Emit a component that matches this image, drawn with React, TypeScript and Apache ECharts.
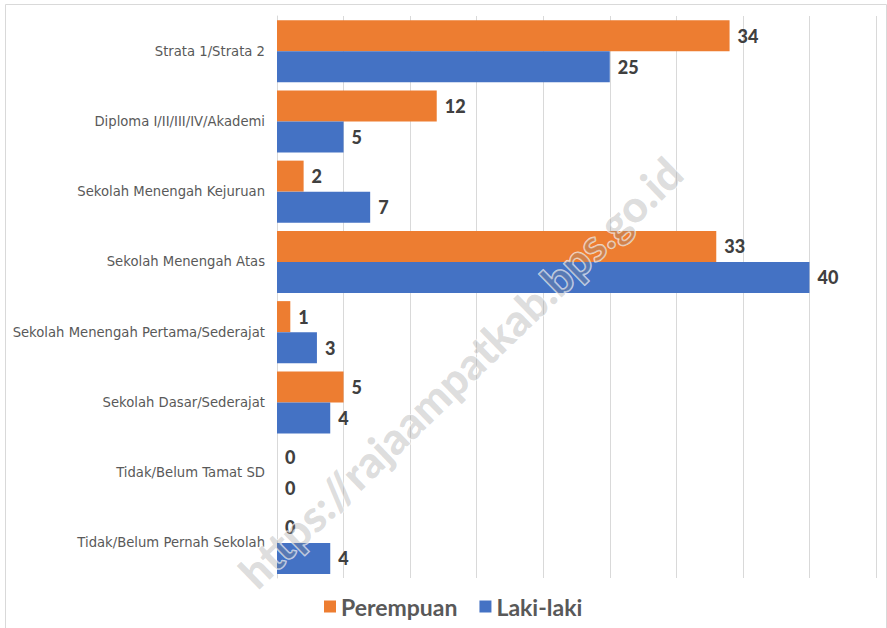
import React, { useEffect, useRef } from "react";
import * as echarts from "echarts";

const categories = [
  "Strata 1/Strata 2",
  "Diploma I/II/III/IV/Akademi",
  "Sekolah Menengah Kejuruan",
  "Sekolah Menengah Atas",
  "Sekolah Menengah Pertama/Sederajat",
  "Sekolah Dasar/Sederajat",
  "Tidak/Belum Tamat SD",
  "Tidak/Belum Pernah Sekolah",
];
const perempuan = [34, 12, 2, 33, 1, 5, 0, 0];
const lakiLaki = [25, 5, 7, 40, 3, 4, 0, 4];
const seriesNames = ["Perempuan", "Laki-laki"];
const watermark = "https://rajaampatkab.bps.go.id";

export default function App() {
  const ref = useRef<HTMLDivElement>(null);
  useEffect(() => {
    document.body.style.margin = "0";
    const chart = echarts.init(ref.current!, null, { renderer: "svg" });
    const labelStyle = {
      show: true,
      position: "right" as const,
      distance: 8,
      fontFamily: "Lato",
      fontWeight: 900,
      fontSize: 18,
      color: "#404040",
    };
    chart.setOption({
      animation: false,
      backgroundColor: "#ffffff",
      grid: { left: 277, right: 11, top: 16, bottom: 50, containLabel: false },
      legend: {
        bottom: 5,
        left: 319,
        itemWidth: 12,
        itemHeight: 12,
        itemGap: 22,
        icon: "rect",
        textStyle: { fontFamily: "Lato", fontSize: 23, color: "#595959", fontWeight: "bold" },
        data: seriesNames,
      },
      xAxis: {
        type: "value",
        min: 0,
        max: 45,
        interval: 5,
        axisLabel: { show: false },
        axisLine: { show: false },
        axisTick: { show: false },
        splitLine: { lineStyle: { color: "#d9d9d9", width: 1 } },
      },
      yAxis: {
        type: "category",
        inverse: true,
        data: categories,
        axisTick: { show: false },
        axisLine: { lineStyle: { color: "#d9d9d9" } },
        axisLabel: {
          margin: 12,
          fontFamily: "DejaVu Sans",
          fontSize: 13.2,
          color: "#595959",
        },
      },
      series: [
        {
          name: seriesNames[0],
          type: "bar",
          data: perempuan,
          barWidth: 31,
          barGap: "0%",
          itemStyle: { color: "#ED7D31" },
          label: labelStyle,
        },
        {
          name: seriesNames[1],
          type: "bar",
          data: lakiLaki,
          barWidth: 31,
          barGap: "0%",
          itemStyle: { color: "#4472C4" },
          label: labelStyle,
        },
      ],
      graphic: [
        {
          type: "rect",
          left: 3,
          top: 2,
          shape: { width: 881, height: 640 },
          style: { fill: "none", stroke: "#d9d9d9", lineWidth: 1 },
          silent: true,
          z: 0,
        },
        {
          type: "text",
          x: 460,
          y: 372,
          rotation: (44 * Math.PI) / 180,
          z: 100,
          silent: true,
          style: {
            text: watermark,
            fontFamily: "Lato",
            fontWeight: 900,
            fontSize: 44,
            fill: "rgba(140,140,140,0.3)",
            stroke: "rgba(255,255,255,0.7)",
            lineWidth: 1.5,
            align: "center",
            verticalAlign: "middle",
          },
        },
      ],
    });
    return () => chart.dispose();
  }, []);
  return <div ref={ref} style={{ width: 887, height: 628 }} />;
}
